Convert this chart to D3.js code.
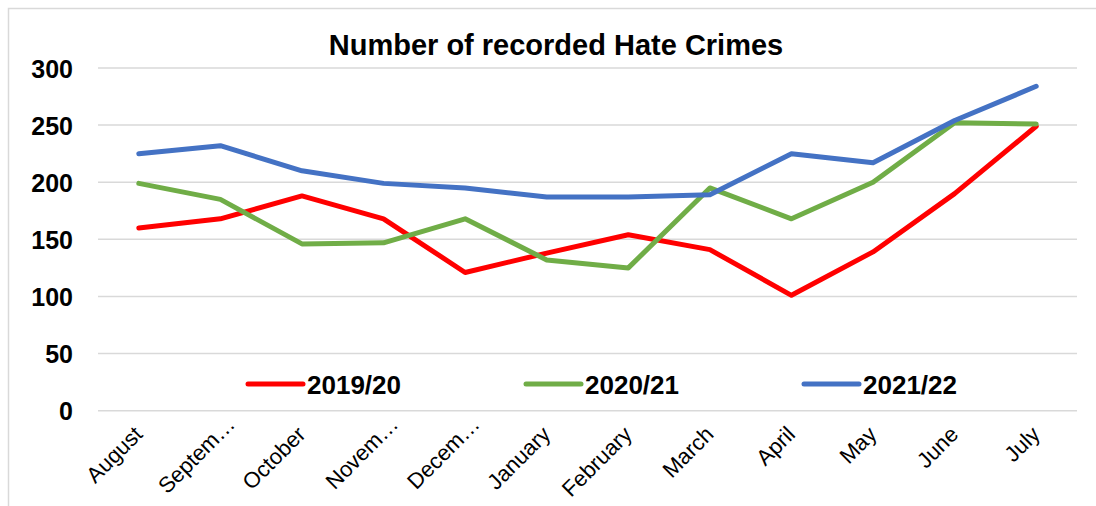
<!DOCTYPE html>
<html>
<head>
<meta charset="utf-8">
<script src="https://cdn.jsdelivr.net/npm/d3@7"></script>
<style>
  html, body { margin: 0; padding: 0; background: #fff; }
  svg { display: block; font-family: "Liberation Sans", Arial, sans-serif; }
</style>
</head>
<body>
<svg id="chart" width="1096" height="506"></svg>
<script>
const categories = ["August", "Septem…", "October", "Novem…", "Decem…", "January", "February", "March", "April", "May", "June", "July"];
const series2019 = [160, 168, 188, 168, 121, 138, 154, 141, 101, 139, 190, 249];
const series2020 = [199, 185, 146, 147, 168, 132, 125, 195, 168, 200, 252, 251];
const series2021 = [225, 232, 210, 199, 195, 187, 187, 189, 225, 217, 254, 284];
const seriesNames = ["2019/20", "2020/21", "2021/22"];
const seriesColors = ["#ff0000", "#70ad47", "#4472c4"];
const yTicks = [0, 50, 100, 150, 200, 250, 300];
const title = "Number of recorded Hate Crimes";

const svg = d3.select("#chart");
const W = 1096, H = 506;

// outer frame
svg.append("rect").attr("x", 8.5).attr("y", 8.5).attr("width", W + 10).attr("height", H + 10)
  .attr("fill", "#fff").attr("stroke", "#d9d9d9").attr("stroke-width", 1.5);

const plot = { left: 98, right: 1077, top: 68, bottom: 410.7 };

const x = d3.scaleBand().domain(categories).range([plot.left, plot.right]);
const y = d3.scaleLinear().domain([0, 300]).range([plot.bottom, plot.top]);

// gridlines
svg.append("g").selectAll("line").data(yTicks).join("line")
  .attr("x1", plot.left).attr("x2", plot.right)
  .attr("y1", d => y(d)).attr("y2", d => y(d))
  .attr("stroke", "#d9d9d9").attr("stroke-width", 1.5);

// y axis labels
const yAxis = d3.axisLeft(y).tickValues(yTicks).tickSize(0).tickPadding(0);
const yg = svg.append("g").attr("transform", `translate(${plot.left - 25},0)`).call(yAxis);
yg.select(".domain").remove();
yg.selectAll("text").attr("font-size", 25).attr("font-weight", "bold").attr("fill", "#000")
  .attr("font-family", "Liberation Sans, Arial, sans-serif").attr("dy", "0.36em");

// x axis labels
const xAxis = d3.axisBottom(x).tickSize(0).tickPadding(0);
const xg = svg.append("g").attr("transform", `translate(0,${plot.bottom})`).call(xAxis);
xg.select(".domain").remove();
xg.selectAll("text")
  .attr("font-size", 22).attr("fill", "#000")
  .attr("font-family", "Liberation Sans, Arial, sans-serif")
  .attr("text-anchor", "end")
  .attr("dy", null).attr("y", null)
  .attr("transform", d => d.endsWith("…") ? "translate(16,15) rotate(-45)" : "translate(5,25) rotate(-45)");

// lines
const allSeries = [series2019, series2020, series2021];
const line = d3.line().x((d, i) => x(categories[i]) + x.bandwidth() / 2).y(d => y(d));
svg.append("g").selectAll("path").data(allSeries).join("path")
  .attr("d", d => line(d))
  .attr("fill", "none")
  .attr("stroke", (d, i) => seriesColors[i])
  .attr("stroke-width", 5)
  .attr("stroke-linejoin", "round")
  .attr("stroke-linecap", "round");

// title
svg.append("text").attr("x", 556).attr("y", 55).attr("text-anchor", "middle")
  .attr("font-size", 29).attr("font-weight", "bold").attr("fill", "#000").text(title);

// legend
const legendX = [248, 526, 804];
const legendY = 384;
const lg = svg.append("g").selectAll("g").data(seriesNames).join("g")
  .attr("transform", (d, i) => `translate(${legendX[i]},${legendY})`);
lg.append("line").attr("x1", 0).attr("x2", 55).attr("y1", 0).attr("y2", 0)
  .attr("stroke", (d, i) => seriesColors[i]).attr("stroke-width", 5).attr("stroke-linecap", "round");
lg.append("text").attr("x", 59).attr("y", 9.5).attr("font-size", 26).attr("font-weight", "bold")
  .attr("fill", "#000").text(d => d);
</script>
</body>
</html>
